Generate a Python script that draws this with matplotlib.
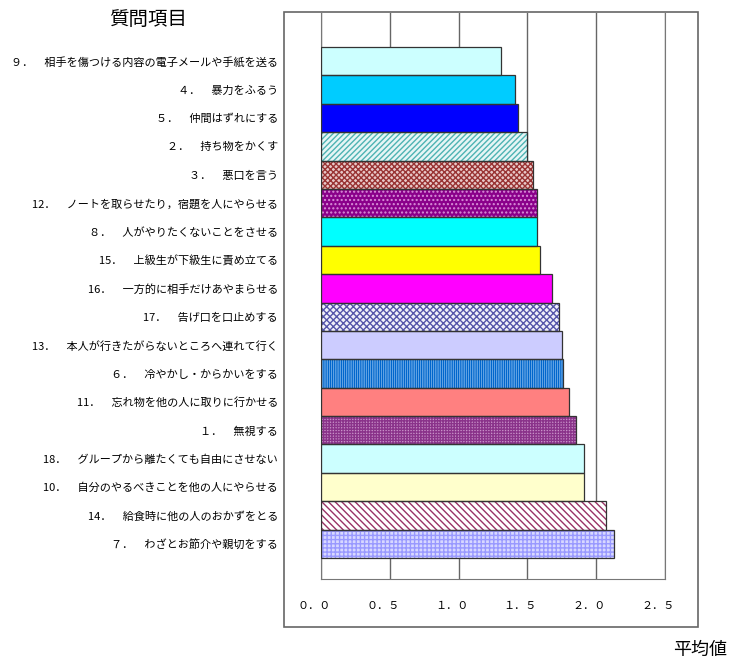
import matplotlib
matplotlib.use("Agg")
import matplotlib.pyplot as plt
from matplotlib.patches import Rectangle
from matplotlib.transforms import ScaledTranslation
import numpy as np

plt.rcParams['font.family'] = ['Noto Sans CJK JP', 'DejaVu Sans']

# question items, listed top to bottom
labels = [
    "９．　相手を傷つける内容の電子メールや手紙を送る",
    "４．　暴力をふるう",
    "５．　仲間はずれにする",
    "２．　持ち物をかくす",
    "３．　悪口を言う",
    "12．　ノートを取らせたり，宿題を人にやらせる",
    "８．　人がやりたくないことをさせる",
    "15．　上級生が下級生に責め立てる",
    "16．　一方的に相手だけあやまらせる",
    "17．　告げ口を口止めする",
    "13．　本人が行きたがらないところへ連れて行く",
    "６．　冷やかし・からかいをする",
    "11．　忘れ物を他の人に取りに行かせる",
    "１．　無視する",
    "18．　グループから離たくても自由にさせない",
    "10．　自分のやるべきことを他の人にやらせる",
    "14．　給食時に他の人のおかずをとる",
    "７．　わざとお節介や親切をする",
]
means = [1.31, 1.41, 1.43, 1.50, 1.54, 1.57, 1.57, 1.59, 1.68,
         1.73, 1.75, 1.76, 1.80, 1.85, 1.91, 1.91, 2.07, 2.13]

xticks = [0.0, 0.5, 1.0, 1.5, 2.0, 2.5]
xticklabels = ["０．０", "０．５", "１．０", "１．５", "２．０", "２．５"]

# fill colour, hatch pattern and hatch colour for each bar
fills = ['#CCFFFF', '#00CCFF', '#0000FF', '#E6F5F5', '#E8C8C8', '#8A008A',
         '#00FFFF', '#FFFF00', '#FF00FF', '#F0F0FA', '#CCCCFF', '#D0E8FF',
         '#FF8080', '#C890C8', '#CCFFFF', '#FFFFCC', '#FFFFFF', '#D8D8FF']
hatches = [None, None, None, '//////', 'xxxxxx', '....', None, None, None,
           'xxxxx', None, '|||||||||', None, '++++++', None, None, '\\\\\\\\\\', '++++']
hcolors = [None, None, None, '#4DB3B3', '#993333', '#D890D8', None, None, None,
           '#5555AA', None, '#0066CC', None, '#8A338A', None, None, '#993366', '#9999FF']

fig = plt.figure(figsize=(7.31, 6.64), dpi=100)
ax = fig.add_axes([0.4391, 0.128, 0.4706, 0.8524])

y = np.arange(len(labels))
ax.barh(y, means, height=1.0, color=fills, edgecolor='none', zorder=2)
for i in range(len(labels)):
    if hatches[i]:
        ax.barh(y[i], means[i], height=1.0, color='none', edgecolor=hcolors[i],
                hatch=hatches[i], linewidth=0, zorder=3)
ax.barh(y, means, height=1.0, fill=False, edgecolor='#333333', linewidth=0.9, zorder=4)

ax.set_xlim(0, 2.5)
ax.set_ylim(18.24, -1.7)
ax.set_xticks(xticks)
ax.set_xticklabels(xticklabels, fontsize=8)
ax.set_yticks(y)
ax.set_yticklabels(labels, fontsize=8)
ax.tick_params(axis='y', length=0, pad=31)
ax.tick_params(axis='x', length=0, pad=16)
# x tick labels sit a little left of their grid lines
shift = ScaledTranslation(-7 / 100, 0, fig.dpi_scale_trans)
for t in ax.get_xticklabels():
    t.set_transform(t.get_transform() + shift)
ax.xaxis.grid(True, color='#666666', linewidth=1.0, zorder=1)
ax.set_axisbelow(True)
ax.spines['top'].set_visible(False)
for s in ['left', 'bottom', 'right']:
    ax.spines[s].set_color('#777777')

# outer frame round the plot and tick labels
fig.patches.append(Rectangle((0.3885, 0.0557), 0.5663, 0.926, transform=fig.transFigure,
                             fill=False, edgecolor='#666666', linewidth=1.2))

fig.text(0.202, 0.971, "質問項目", fontsize=14, ha='center', va='center')
fig.text(0.957, 0.021, "平均値", fontsize=13, ha='center', va='center')

fig.savefig("out.png", dpi=100)
